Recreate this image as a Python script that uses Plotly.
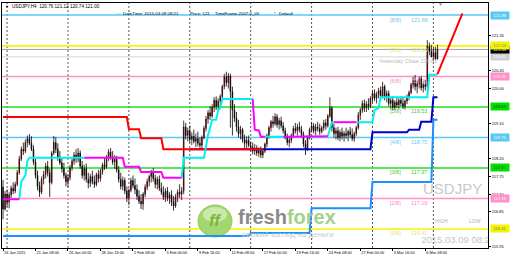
import plotly.graph_objects as go

# ---------------- data ----------------
bars = list(range(215))

opens = [117.48, 116.92, 117.30, 117.10, 117.28, 117.45, 117.38, 117.55, 117.85, 118.20,
         118.45, 118.40, 118.62, 118.72, 118.60, 118.45, 118.12, 117.78, 117.50, 117.35,
         117.68, 117.80, 118.02, 117.85, 117.60, 118.35, 118.62, 118.45, 118.25, 118.10,
         117.95, 117.78, 117.62, 117.72, 117.98, 118.15, 118.30, 118.20, 118.35, 118.02,
         117.78, 117.95, 117.68, 117.58, 117.75, 117.62, 117.55, 117.80, 117.70, 117.88,
         118.05, 118.00, 118.25, 118.38, 118.25, 118.12, 118.20, 117.92, 117.68, 117.50,
         117.65, 117.38, 117.20, 117.40, 117.65, 117.52, 117.42, 117.25, 117.12, 117.05,
         117.30, 117.48, 117.62, 117.75, 117.85, 117.70, 117.55, 117.68, 117.45, 117.35,
         117.22, 117.38, 117.20, 117.28, 117.10, 117.00, 117.22, 117.35, 117.30, 117.38,
         119.02, 118.80, 118.92, 118.70, 118.78, 118.65, 118.72, 118.60, 118.55, 118.75,
         118.98, 119.22, 119.38, 119.30, 119.52, 119.70, 119.55, 119.68, 119.80, 120.05,
         120.30, 120.15, 120.32, 119.92, 119.45, 119.25, 119.02, 118.85, 118.95, 118.70,
         118.60, 118.68, 118.55, 118.50, 118.40, 118.48, 118.35, 118.42, 118.30, 118.40,
         118.58, 118.80, 119.00, 119.15, 119.10, 119.28, 119.08, 119.18, 119.05, 118.92,
         118.78, 118.62, 118.68, 118.80, 118.98, 118.92, 119.02, 118.95, 118.82, 118.58,
         118.45, 118.75, 118.95, 119.05, 118.92, 119.02, 118.98, 118.90, 119.00, 119.12,
         119.05, 119.30, 119.50, 119.00, 118.85, 118.92, 118.75, 118.88, 118.78, 118.85,
         118.80, 118.90, 118.82, 118.72, 118.85, 119.00, 119.32, 119.45, 119.62, 119.50,
         119.60, 119.55, 119.75, 119.88, 119.75, 119.85, 119.95, 119.80, 120.05, 119.78,
         119.88, 119.62, 119.70, 119.52, 119.65, 119.58, 119.70, 119.62, 119.55, 119.68,
         119.78, 119.90, 120.10, 120.20, 120.05, 120.12, 120.25, 120.02, 120.10, 120.05,
         121.08, 120.95, 120.81, 120.92, 120.76]

highs = [117.66, 117.38, 117.42, 117.35, 117.52, 117.60, 117.62, 117.92, 118.28, 118.52,
         118.62, 118.70, 118.80, 118.84, 118.78, 118.55, 118.20, 117.90, 117.62, 117.75,
         117.90, 118.10, 118.15, 117.95, 118.40, 118.79, 118.76, 118.60, 118.40, 118.22,
         118.10, 117.85, 117.80, 118.05, 118.22, 118.38, 118.45, 118.48, 118.42, 118.15,
         118.05, 118.08, 117.85, 117.82, 117.90, 117.78, 117.85, 117.92, 117.95, 118.10,
         118.22, 118.30, 118.45, 118.48, 118.40, 118.30, 118.28, 118.02, 117.85, 117.75,
         117.72, 117.50, 117.45, 117.72, 117.78, 117.70, 117.55, 117.40, 117.30, 117.35,
         117.55, 117.70, 117.80, 117.92, 117.97, 117.80, 117.75, 117.78, 117.60, 117.50,
         117.45, 117.48, 117.35, 117.40, 117.25, 117.30, 117.42, 117.55, 117.48, 119.18,
         119.12, 119.00, 119.05, 118.88, 118.95, 118.85, 118.90, 118.75, 118.80, 119.05,
         119.30, 119.45, 119.55, 119.60, 119.78, 119.80, 119.75, 119.85, 120.10, 120.38,
         120.43, 120.40, 120.38, 120.05, 119.60, 119.40, 119.20, 119.05, 119.00, 118.82,
         118.78, 118.80, 118.65, 118.62, 118.58, 118.55, 118.50, 118.52, 118.45, 118.62,
         118.85, 119.05, 119.20, 119.30, 119.37, 119.35, 119.25, 119.28, 119.15, 119.00,
         118.85, 118.75, 118.85, 119.05, 119.12, 119.10, 119.15, 119.05, 118.90, 118.68,
         118.80, 119.00, 119.15, 119.12, 119.10, 119.15, 119.10, 119.05, 119.20, 119.22,
         119.35, 119.78, 119.55, 119.10, 119.00, 119.02, 118.95, 119.00, 118.92, 119.00,
         118.95, 119.02, 118.98, 118.90, 119.05, 119.40, 119.50, 119.70, 119.72, 119.68,
         119.75, 119.80, 119.95, 119.98, 119.92, 120.02, 120.05, 120.17, 120.10, 119.95,
         119.95, 119.78, 119.80, 119.70, 119.78, 119.75, 119.80, 119.76, 119.72, 119.85,
         119.95, 120.15, 120.30, 120.35, 120.20, 120.30, 120.32, 120.18, 120.22, 121.24,
         121.18, 121.12, 121.05, 121.06, 121.12]

lows = [116.66, 116.88, 116.98, 116.94, 117.20, 117.30, 117.32, 117.50, 117.80, 118.15,
        118.30, 118.35, 118.50, 118.55, 118.40, 118.05, 117.70, 117.40, 117.23, 117.30,
        117.55, 117.70, 117.75, 117.23, 117.55, 118.30, 118.35, 118.15, 118.05, 117.85,
        117.70, 117.50, 117.48, 117.65, 117.90, 118.05, 118.10, 118.12, 117.95, 117.70,
        117.65, 117.60, 117.45, 117.48, 117.55, 117.46, 117.50, 117.60, 117.62, 117.80,
        117.92, 117.95, 118.15, 118.18, 118.05, 117.95, 117.85, 117.60, 117.42, 117.40,
        117.30, 117.10, 117.02, 117.35, 117.45, 117.30, 117.15, 117.05, 116.92, 116.90,
        117.22, 117.40, 117.50, 117.60, 117.62, 117.45, 117.42, 117.38, 117.28, 117.15,
        117.10, 117.12, 117.05, 117.00, 116.88, 116.95, 117.10, 117.20, 117.15, 117.30,
        118.70, 118.65, 118.62, 118.55, 118.60, 118.50, 118.52, 118.43, 118.45, 118.70,
        118.90, 119.10, 119.20, 119.25, 119.40, 119.45, 119.48, 119.55, 119.72, 119.98,
        120.05, 120.00, 119.00, 118.80, 119.15, 118.90, 118.75, 118.70, 118.62, 118.48,
        118.45, 118.50, 118.40, 118.32, 118.30, 118.28, 118.25, 118.22, 118.22, 118.35,
        118.50, 118.72, 118.90, 119.00, 119.05, 119.00, 118.95, 118.98, 118.85, 118.70,
        118.55, 118.50, 118.60, 118.75, 118.85, 118.80, 118.88, 118.75, 118.50, 118.30,
        118.40, 118.70, 118.88, 118.85, 118.80, 118.90, 118.82, 118.85, 118.92, 118.95,
        119.00, 119.25, 118.90, 118.75, 118.70, 118.68, 118.65, 118.70, 118.64, 118.72,
        118.65, 118.75, 118.66, 118.64, 118.78, 118.95, 119.20, 119.38, 119.40, 119.40,
        119.45, 119.50, 119.65, 119.68, 119.62, 119.75, 119.70, 119.75, 119.70, 119.65,
        119.55, 119.48, 119.45, 119.45, 119.50, 119.48, 119.55, 119.48, 119.46, 119.60,
        119.70, 119.85, 120.00, 119.95, 119.88, 120.00, 119.95, 119.90, 119.95, 119.98,
        120.85, 120.80, 120.70, 120.72, 120.74]

closes = [116.92, 117.30, 117.10, 117.28, 117.45, 117.38, 117.55, 117.85, 118.20, 118.45,
          118.40, 118.62, 118.72, 118.60, 118.45, 118.12, 117.78, 117.50, 117.35, 117.68,
          117.80, 118.02, 117.85, 117.60, 118.35, 118.62, 118.45, 118.25, 118.10, 117.95,
          117.78, 117.62, 117.72, 117.98, 118.15, 118.30, 118.20, 118.35, 118.02, 117.78,
          117.95, 117.68, 117.58, 117.75, 117.62, 117.55, 117.80, 117.70, 117.88, 118.05,
          118.00, 118.25, 118.38, 118.25, 118.12, 118.20, 117.92, 117.68, 117.50, 117.65,
          117.38, 117.20, 117.40, 117.65, 117.52, 117.42, 117.25, 117.12, 117.05, 117.30,
          117.48, 117.62, 117.75, 117.85, 117.70, 117.55, 117.68, 117.45, 117.35, 117.22,
          117.38, 117.20, 117.28, 117.10, 117.00, 117.22, 117.35, 117.30, 117.38, 119.02,
          118.80, 118.92, 118.70, 118.78, 118.65, 118.72, 118.60, 118.55, 118.75, 118.98,
          119.22, 119.38, 119.30, 119.52, 119.70, 119.55, 119.68, 119.80, 120.05, 120.30,
          120.15, 120.32, 119.92, 119.45, 119.25, 119.02, 118.85, 118.95, 118.70, 118.60,
          118.68, 118.55, 118.50, 118.40, 118.48, 118.35, 118.42, 118.30, 118.40, 118.58,
          118.80, 119.00, 119.15, 119.10, 119.28, 119.08, 119.18, 119.05, 118.92, 118.78,
          118.62, 118.68, 118.80, 118.98, 118.92, 119.02, 118.95, 118.82, 118.58, 118.45,
          118.75, 118.95, 119.05, 118.92, 119.02, 118.98, 118.90, 119.00, 119.12, 119.05,
          119.30, 119.50, 119.00, 118.85, 118.92, 118.75, 118.88, 118.78, 118.85, 118.80,
          118.90, 118.82, 118.72, 118.85, 119.00, 119.32, 119.45, 119.62, 119.50, 119.60,
          119.55, 119.75, 119.88, 119.75, 119.85, 119.95, 119.80, 120.05, 119.78, 119.88,
          119.62, 119.70, 119.52, 119.65, 119.58, 119.70, 119.62, 119.55, 119.68, 119.78,
          119.90, 120.10, 120.20, 120.05, 120.12, 120.25, 120.02, 120.10, 120.05, 121.08,
          120.95, 120.81, 120.92, 120.76, 121.00]

tick_bars = [0, 16, 32, 48, 64, 80, 96, 112, 128, 144, 160, 176, 192, 208]
tick_labels = ["16 Jan 2015", "21 Jan 08:00", "26 Jan 00:00", "28 Jan 16:00", "2 Feb 08:00",
               "5 Feb 00:00", "9 Feb 16:00", "12 Feb 08:00", "17 Feb 00:00", "19 Feb 16:00",
               "24 Feb 08:00", "27 Feb 00:00", "3 Mar 16:00", "6 Mar 08:00"]
week_bars = [2, 32, 62, 92, 122, 152, 182, 212]

# price-scale labels left visible by the line tags
price_ticks = [121.35, 120.45, 120.00, 119.10, 118.20, 117.75, 117.30, 116.85, 115.95]

mm_levels = [121.88, 121.09, 120.31, 119.53, 118.75, 117.97, 117.19, 116.41]
mm_names = ["[8/8]", "[7/8]", "[6/8]", "[5/8]", "[4/8]", "[3/8]", "[2/8]", "[1/8]"]

bid_price = 121.00
yesterday_close = 120.81

# step indicators: (bar, value) breakpoints
red_x = [0, 61, 62, 67, 68, 78, 79, 128]
red_y = [119.27, 119.27, 118.96, 118.96, 118.73, 118.73, 118.45, 118.45]
navy_x = [92, 181, 182, 199, 200, 205, 206, 211, 212, 214]
navy_y = [118.45, 118.45, 118.88, 118.88, 118.95, 118.95, 119.15, 119.15, 119.78, 119.78]
dodger_x = [0, 121, 122, 151, 152, 181, 182, 211, 212, 214]
dodger_y = [116.23, 116.23, 116.31, 116.31, 116.94, 116.94, 117.61, 117.61, 119.20, 119.20]

# trend-stop line segments (cyan = up, magenta = down)
st_up = [
    ([8, 9, 11, 12, 13, 40], [117.17, 117.62, 117.78, 118.15, 118.23, 118.23]),
    ([88, 89, 99, 100, 101, 102, 103, 105, 106, 107, 108, 123],
     [117.72, 118.23, 118.23, 118.55, 118.81, 119.00, 119.20, 119.20, 119.45, 119.50, 119.73, 119.73]),
    ([129, 138], [118.77, 118.77]),
    ([160, 161, 162, 163], [118.78, 119.00, 119.14, 119.14]),
    ([174, 182, 183, 185, 186, 209, 210, 214],
     [119.14, 119.14, 119.45, 119.50, 119.78, 119.78, 120.35, 120.35]),
]
st_dn = [
    ([0, 8], [117.17, 117.17]),
    ([40, 59, 60, 67, 68, 78, 79, 88], [118.23, 118.23, 118.00, 118.00, 117.87, 117.87, 117.72, 117.72]),
    ([123, 124, 126, 127, 129], [119.73, 118.95, 118.93, 118.77, 118.77]),
    ([138, 160], [118.77, 118.78]),
    ([163, 174], [119.14, 119.14]),
]

forecast_x = [214, 226.3]
forecast_y = [120.37, 121.92]

# ---------------- styling ----------------
W, H = 510, 259
ML, MR, MT, MB = 2, 22, 3, 11
PW = W - ML - MR
PH = H - MT - MB
def xp(px):
    return (px - ML) / PW
def yp(py):
    return (H - MB - py) / PH

FONT = "Liberation Sans, Arial, sans-serif"
LBLUE = "#58c8f4"
YELLOW = "#f4f400"
PINK = "#ff90c8"
GREEN = "#22dd22"
mm_colors = [LBLUE, YELLOW, PINK, GREEN, LBLUE, GREEN, PINK, YELLOW]
mm_text_colors = ["#70c8f0", "#e2e27a", "#f48cc0", "#44cc44", "#70c8f0", "#44cc44", "#f48cc0", "#e2e27a"]

fig = go.Figure()

shapes = []
for b in week_bars:
    shapes.append(dict(type="line", xref="x", yref="paper", x0=b, x1=b, y0=0, y1=1,
                       line=dict(color="#555555", width=1, dash="2px,2px"), layer="below"))
for lv, col in zip(mm_levels, mm_colors):
    shapes.append(dict(type="line", xref="paper", yref="y", x0=0, x1=1, y0=lv, y1=lv,
                       line=dict(color=col, width=1.6), layer="below"))
shapes.append(dict(type="line", xref="paper", yref="y", x0=0, x1=1, y0=bid_price, y1=bid_price,
                   line=dict(color="#a0a0a0", width=1), layer="below"))
shapes.append(dict(type="line", xref="paper", yref="y", x0=0, x1=1, y0=yesterday_close, y1=yesterday_close,
                   line=dict(color="#d4d4d4", width=1), layer="below"))

# freshforex logo ball
shapes.append(dict(type="circle", xref="paper", yref="paper",
                   x0=xp(198), x1=xp(232), y0=yp(237), y1=yp(205),
                   fillcolor="#a4d670", line=dict(color="#92c95c", width=1), layer="below"))
shapes.append(dict(type="circle", xref="paper", yref="paper",
                   x0=xp(203), x1=xp(227), y0=yp(222), y1=yp(207),
                   fillcolor="#cbeaaa", line=dict(width=0), layer="below"))

fig.add_trace(go.Candlestick(
    x=bars, open=opens, high=highs, low=lows, close=closes,
    increasing=dict(line=dict(color="#2a0000", width=0.8), fillcolor="#b01818"),
    decreasing=dict(line=dict(color="#000000", width=0.8), fillcolor="#000000"),
    whiskerwidth=0, hoverinfo="skip"))

fig.add_trace(go.Scatter(x=dodger_x, y=dodger_y, mode="lines", line=dict(color="#1e8fff", width=2), hoverinfo="skip"))
fig.add_trace(go.Scatter(x=navy_x, y=navy_y, mode="lines", line=dict(color="#0000d0", width=2), hoverinfo="skip"))
fig.add_trace(go.Scatter(x=red_x, y=red_y, mode="lines", line=dict(color="#ff0000", width=2), hoverinfo="skip"))
for sx, sy in st_up:
    fig.add_trace(go.Scatter(x=sx, y=sy, mode="lines", line=dict(color="#00f0f0", width=2), hoverinfo="skip"))
for sx, sy in st_dn:
    fig.add_trace(go.Scatter(x=sx, y=sy, mode="lines", line=dict(color="#ff00ff", width=2), hoverinfo="skip"))
fig.add_trace(go.Scatter(x=forecast_x, y=forecast_y, mode="lines", line=dict(color="#ff0000", width=2), hoverinfo="skip"))

# clipped timestamp watermark
fig.add_trace(go.Scatter(x=[206.0], y=[116.10], mode="text", text=["2015.03.09 08:21"],
                         textposition="middle right", cliponaxis=True,
                         textfont=dict(family=FONT, size=9.5, color="#c4c4c4"), hoverinfo="skip"))

ann = []
# Murrey labels
for lv, nm, tc in zip(mm_levels, mm_names, mm_text_colors):
    ann.append(dict(xref="paper", yref="y", x=xp(388), y=lv, yshift=-4.5, text=nm, showarrow=False,
                    xanchor="left", yanchor="middle", font=dict(family=FONT, size=5.5, color=tc)))
    ann.append(dict(xref="paper", yref="y", x=xp(409), y=lv, yshift=-4.5, text=f"{lv:.2f}", showarrow=False,
                    xanchor="left", yanchor="middle", font=dict(family=FONT, size=5.5, color=tc)))
ann.append(dict(xref="paper", yref="y", x=xp(377), y=yesterday_close, yshift=-4.5,
                text=f"Yesterday Close {yesterday_close:.2f}", showarrow=False, xanchor="left", yanchor="middle",
                font=dict(family=FONT, size=5.5, color="#b8b8b8")))

# price tags on the axis
tags = [(121.88, LBLUE, "white"), (yesterday_close, "#cfcfcf", "white"), (bid_price, "#000000", "white"),
        (121.09, YELLOW, "#888888"), (120.31, PINK, "white"), (119.53, "#00e000", "#114411"),
        (118.75, LBLUE, "white"), (117.97, "#00e000", "#114411"), (117.19, PINK, "white"),
        (116.41, YELLOW, "#777777")]
for v, bg, fg in tags:
    ann.append(dict(xref="paper", yref="y", x=1, xshift=2, y=v, text=f"{v:.2f}", showarrow=False,
                    xanchor="left", yanchor="middle", bgcolor=bg, width=18, height=6.5, borderpad=0,
                    font=dict(family=FONT, size=4.2, color=fg)))

# header texts
ann.append(dict(xref="paper", yref="paper", x=xp(3), y=yp(6), text="▼", showarrow=False,
                xanchor="left", yanchor="middle", font=dict(family=FONT, size=4, color="#000000")))
ann.append(dict(xref="paper", yref="paper", x=xp(10), y=yp(6),
                text="USDJPY,H4&nbsp;&nbsp;120.76 121.12 120.74 121.00", showarrow=False,
                xanchor="left", yanchor="middle", font=dict(family=FONT, size=4.6, color="#000000")))
for txt, px, col in [(":::::", 113, "#909090"), ("DateTime: 2015.03.09 08:21", 121, "#000000"),
                     ("Price: 121", 188, "#000000"), ("TimeFrame:2007;0_05", 213, "#000000"),
                     ("*", 272, "#000000"), ("Default", 277, "#000000"), (":::", 295, "#909090")]:
    ann.append(dict(xref="paper", yref="paper", x=xp(px), y=yp(13.5), text=txt, showarrow=False,
                    xanchor="left", yanchor="middle", font=dict(family=FONT, size=4.4, color=col)))
ann.append(dict(xref="paper", yref="paper", x=xp(440), y=yp(4), text="▼", showarrow=False,
                xanchor="center", yanchor="middle", font=dict(family=FONT, size=5, color="#909090")))

# watermarks
ann.append(dict(xref="paper", yref="paper", x=xp(484), y=yp(188), text="USDJPY", showarrow=False,
                xanchor="right", yanchor="middle", font=dict(family=FONT, size=15, color="#c8c8c8")))
ann.append(dict(xref="paper", yref="paper", x=xp(450), y=yp(221), text="HIGH", showarrow=False,
                xanchor="right", yanchor="middle", font=dict(family=FONT, size=5, color="#b0b0b0")))
ann.append(dict(xref="paper", yref="paper", x=xp(467), y=yp(221), text="LOW", showarrow=False,
                xanchor="left", yanchor="middle", font=dict(family=FONT, size=5, color="#b0b0b0")))
ann.append(dict(xref="paper", yref="paper", x=xp(215), y=yp(220), text="<b><i>ff</i></b>", showarrow=False,
                xanchor="center", yanchor="middle", font=dict(family=FONT, size=17, color="#78b842")))
ann.append(dict(xref="paper", yref="paper", x=xp(236), y=yp(216.5),
                text="<b><span style='color:#8a8a8a'>fresh</span><span style='color:#a6d18a'>forex</span></b>",
                showarrow=False, xanchor="left", yanchor="middle", font=dict(family=FONT, size=20)))
ann.append(dict(xref="paper", yref="paper", x=xp(240), y=yp(234), text="свежий взгляд на деньги",
                showarrow=False, xanchor="left", yanchor="middle", font=dict(family=FONT, size=8, color="#c4c8d2")))

fig.update_layout(
    width=W, height=H, margin=dict(l=ML, r=MR, t=MT, b=MB, autoexpand=False),
    paper_bgcolor="white", plot_bgcolor="white", showlegend=False,
    boxgap=0.55, shapes=shapes, annotations=ann,
    font=dict(family=FONT, size=4, color="black"),
)
fig.update_xaxes(range=[-0.5, 238.9], tickmode="array", tickvals=tick_bars, ticktext=tick_labels,
                 ticklabelposition="outside right", tickangle=0, automargin=False,
                 ticks="outside", ticklen=2, tickcolor="black",
                 tickfont=dict(family=FONT, size=3.9, color="black"), showgrid=False, zeroline=False,
                 showline=True, linecolor="black", linewidth=1, mirror=True,
                 rangeslider=dict(visible=False), fixedrange=True)
fig.update_yaxes(range=[115.924, 122.187], side="right", tickmode="array", tickvals=price_ticks,
                 ticktext=[f"{v:.2f}" for v in price_ticks], ticks="outside", ticklen=2, tickcolor="black",
                 automargin=False, tickfont=dict(family=FONT, size=4, color="black"), showgrid=False,
                 zeroline=False, showline=True, linecolor="black", linewidth=1, mirror=True, fixedrange=True)

fig.write_html("out.html")
